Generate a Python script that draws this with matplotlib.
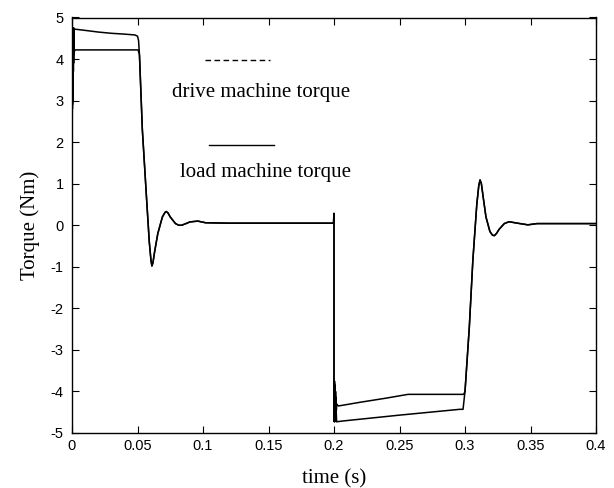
import matplotlib
matplotlib.use("Agg")
import matplotlib.pyplot as plt
from matplotlib.lines import Line2D

# drive machine torque (upper curve during load phases)
t_drive = [0.0, 0.0001, 0.0002, 0.0003, 0.0004, 0.0005, 0.0006, 0.0007, 0.0008,
           0.0009, 0.0010, 0.0011, 0.0012, 0.0013, 0.0014, 0.0016, 0.0020,
           0.010, 0.020, 0.030, 0.040, 0.048, 0.0500, 0.0508, 0.0515, 0.0537,
           0.0570, 0.0590, 0.0603, 0.0610, 0.0618, 0.0630, 0.0655, 0.0690,
           0.0710, 0.0720, 0.0732, 0.0750, 0.0790, 0.0815, 0.0837, 0.0870,
           0.0900, 0.0960, 0.1020, 0.1200, 0.1995, 0.2000, 0.2000,
           0.2002, 0.2004, 0.2006, 0.2008, 0.2010, 0.2012, 0.2014, 0.2016,
           0.2018, 0.2020, 0.2033, 0.2200, 0.2400, 0.2565, 0.2990, 0.3000,
           0.3033, 0.3060, 0.3090, 0.3105, 0.3115, 0.3125, 0.3140, 0.3160,
           0.3190, 0.3210, 0.3224, 0.3240, 0.3260, 0.3300, 0.3336, 0.3400,
           0.3480, 0.3550, 0.4000]
v_drive = [0.0, 4.70, 2.70, 4.75, 2.90, 4.75, 3.10, 4.75, 3.40,
           4.75, 3.70, 4.75, 3.90, 4.74, 4.20, 4.74, 4.72,
           4.69, 4.65, 4.62, 4.60, 4.58, 4.55, 4.45, 4.10, 2.30,
           0.60, -0.40, -0.85, -0.98, -0.90, -0.65, -0.20, 0.20,
           0.31, 0.33, 0.30, 0.20, 0.04, 0.00, 0.00, 0.04,
           0.08, 0.10, 0.06, 0.05, 0.05, 0.29, -3.70,
           -4.70, -3.75, -4.65, -3.85, -4.60, -4.00, -4.50, -4.15,
           -4.45, -4.30, -4.35, -4.26, -4.16, -4.07, -4.07, -4.00,
           -2.45, -0.84, 0.50, 0.95, 1.09, 1.00, 0.65, 0.20,
           -0.15, -0.24, -0.25, -0.20, -0.10, 0.04, 0.085, 0.05,
           0.01, 0.04, 0.04]

# load machine torque (lower curve during load phases)
t_load = [0.0, 0.0001, 0.0002, 0.0003, 0.0004, 0.0005, 0.0006, 0.0007, 0.0008,
          0.0010, 0.0012, 0.0015, 0.0020, 0.0505, 0.0515,
          0.0537, 0.0570, 0.0590, 0.0603, 0.0610, 0.0618, 0.0630, 0.0655,
          0.0690, 0.0710, 0.0720, 0.0732, 0.0750, 0.0790, 0.0815, 0.0837,
          0.0870, 0.0900, 0.0960, 0.1020, 0.1200, 0.2000,
          0.2000, 0.2001, 0.2003, 0.2005, 0.2007, 0.2009, 0.2011, 0.2013,
          0.2016, 0.2020, 0.2070, 0.2500,
          0.2960, 0.2985, 0.3000, 0.3033, 0.3060, 0.3090, 0.3105, 0.3115,
          0.3125, 0.3140, 0.3160, 0.3190, 0.3210, 0.3224, 0.3240, 0.3260,
          0.3300, 0.3336, 0.3400, 0.3480, 0.3550, 0.4000]
v_load = [0.0, 3.00, 4.40, 2.80, 4.45, 3.00, 4.40, 3.30, 4.35,
          3.70, 4.30, 4.10, 4.22, 4.22, 4.10,
          2.30, 0.60, -0.40, -0.85, -0.98, -0.90, -0.65, -0.20,
          0.20, 0.31, 0.33, 0.30, 0.20, 0.04, 0.00, 0.00,
          0.04, 0.08, 0.10, 0.06, 0.05, 0.05,
          -4.00, -4.73, -3.80, -4.73, -3.90, -4.72, -4.10, -4.72,
          -4.40, -4.73, -4.71, -4.57,
          -4.43, -4.43, -4.00, -2.45, -0.84, 0.50, 0.95, 1.09,
          1.00, 0.65, 0.20, -0.15, -0.24, -0.25, -0.20, -0.10,
          0.04, 0.085, 0.05, 0.01, 0.04, 0.04]

x_ticks = [0, 0.05, 0.1, 0.15, 0.2, 0.25, 0.3, 0.35, 0.4]
x_tick_labels = ["0", "0.05", "0.1", "0.15", "0.2", "0.25", "0.3", "0.35", "0.4"]
y_ticks = [-5, -4, -3, -2, -1, 0, 1, 2, 3, 4, 5]
y_tick_labels = ["-5", "-4", "-3", "-2", "-1", "0", "1", "2", "3", "4", "5"]

serif = ["Liberation Serif", "DejaVu Serif"]
sans = ["Liberation Sans", "DejaVu Sans"]

fig = plt.figure(figsize=(6.14, 4.88), dpi=100)
ax = fig.add_axes([72/614, 1-433/488, (596-72)/614, (433-17.5)/488])

ax.plot(t_drive, v_drive, color="black", lw=1.1)
ax.plot(t_load, v_load, color="black", lw=1.1)

ax.set_xlim(0, 0.4)
ax.set_ylim(-5, 5)
ax.set_xticks(x_ticks)
ax.set_xticklabels(x_tick_labels, fontfamily=sans, fontsize=10.5)
ax.set_yticks(y_ticks)
ax.set_yticklabels(y_tick_labels, fontfamily=sans, fontsize=10.5)
ax.tick_params(axis="x", direction="in", top=True, length=5, width=0.8, pad=4)
ax.tick_params(axis="y", direction="in", right=True, length=5, width=0.8, pad=6)
for s in ax.spines.values():
    s.set_linewidth(1.0)

ax.set_xlabel("time (s)", fontfamily=serif, fontsize=15, labelpad=12)
ax.set_ylabel("Torque (Nm)", fontfamily=serif, fontsize=15, labelpad=8)

fig.add_artist(Line2D([205/614, 270/614], [1-59.5/488, 1-59.5/488],
                      color="black", lw=1.0, ls=(0, (4, 2.5))))
fig.text(261/614, 1-92/488, "drive machine torque", fontfamily=serif,
         fontsize=15, ha="center", va="center")
fig.add_artist(Line2D([209/614, 274/614], [1-144.5/488, 1-144.5/488],
                      color="black", lw=1.0))
fig.text(265/614, 1-172/488, "load machine torque", fontfamily=serif,
         fontsize=15, ha="center", va="center")

fig.savefig("out.png", dpi=100)
